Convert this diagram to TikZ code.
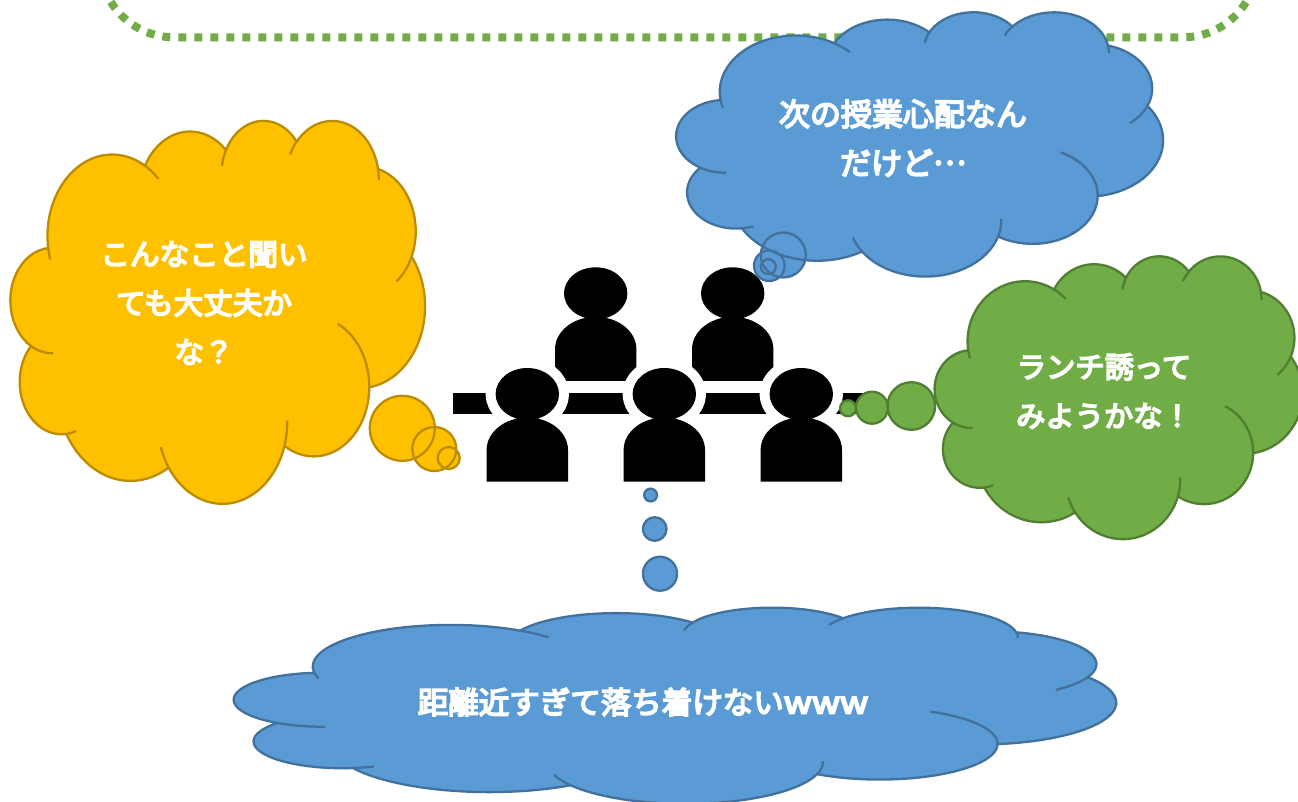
\documentclass[tikz,border=0pt]{standalone}
\usepackage{fontspec}
\usepackage{graphicx}
\newfontfamily\cjk[FakeBold=5.5]{Noto Sans CJK JP}
\definecolor{bluefill}{HTML}{5B9BD5}
\definecolor{bluestroke}{HTML}{41719C}
\definecolor{yellowfill}{HTML}{FFC000}
\definecolor{yellowstroke}{HTML}{BC8C00}
\definecolor{greenfill}{HTML}{70AD47}
\definecolor{greenstroke}{HTML}{507E32}
% arc table: visual angles of the cloud outline turned into parametric ones
\newcommand\defarc[5]{%
  \pgfmathsetmacro\tmpS{atan2(#2*sin(#4),#3*cos(#4))}%
  \pgfmathsetmacro\tmpE{atan2(#2*sin(#4+#5),#3*cos(#4+#5))}%
  \pgfmathsetmacro\tmpD{mod(\tmpE-\tmpS+720,360)}%
  \expandafter\xdef\csname aS#1\endcsname{\tmpS}%
  \expandafter\xdef\csname aD#1\endcsname{\tmpD}%
  \expandafter\xdef\csname aX#1\endcsname{#2}%
  \expandafter\xdef\csname aY#1\endcsname{#3}}
\defarc{A}{67.53}{91.90}{-190.4875}{123.7805}
\defarc{B}{53.33}{72.67}{-144.1024}{89.9452}
\defarc{C}{43.65}{59.45}{-145.8079}{99.7230}
\defarc{D}{48.57}{65.95}{-130.9861}{117.2417}
\defarc{E}{53.33}{72.73}{-78.7089}{109.0269}
\defarc{F}{67.75}{92.20}{-46.2673}{130.2690}
\defarc{G}{57.85}{78.67}{0.6250}{114.0333}
\defarc{H}{67.52}{92.15}{22.4516}{115.1726}
\defarc{I}{77.20}{105.43}{66.2426}{75.7110}
\defarc{J}{43.60}{59.18}{-274.9421}{146.7356}
\defarc{K}{43.45}{59.45}{-246.8285}{152.5189}
\def\ca#1{arc[start angle=\csname aS#1\endcsname,delta angle=\csname aD#1\endcsname,x radius=\csname aX#1\endcsname,y radius=\csname aY#1\endcsname]}
% extension of an arc at its start (backward) or at its end (forward)
\newcommand\back[2]{(j#1) arc[start angle=\csname aS#1\endcsname,delta angle=-#2,x radius=\csname aX#1\endcsname,y radius=\csname aY#1\endcsname]}
\newcommand\fwd[3]{(j#2) arc[start angle={\csname aS#1\endcsname+\csname aD#1\endcsname},delta angle=#3,x radius=\csname aX#1\endcsname,y radius=\csname aY#1\endcsname]}
\def\cloudoutline{(39.00,143.70) coordinate (jA) \ca{A} coordinate (jB) \ca{B} coordinate (jC) \ca{C} coordinate (jD) \ca{D} coordinate (jE) \ca{E} coordinate (jF) \ca{F} coordinate (jG) \ca{G} coordinate (jH) \ca{H} coordinate (jI) \ca{I} coordinate (jJ) \ca{J} coordinate (jK) \ca{K} -- cycle}
% x0 y0 sx sy fill stroke tail
\newcommand\thoughtcloud[7]{%
  \fill[#5] #7;
  \begin{scope}[shift={(#1,#2)},xscale=#3,yscale=#4]
    \fill[#5] \cloudoutline;
    \draw[#6,cloudline] \cloudoutline;
    \draw[#6,cloudline,line cap=butt] \fwd{A}{B}{15} \back{C}{18} \back{D}{15} \fwd{D}{E}{11} \fwd{E}{F}{28}
      \back{G}{65} \back{H}{18} \fwd{H}{I}{16} \back{J}{14} \back{K}{32} \back{A}{9};
  \end{scope}
  \draw[#6,cloudline] #7;}
\newcommand\person[3]{%
  \begin{scope}[shift={(#1,#2)}]
    \path[#3] (0,0) ellipse [x radius=31.7,y radius=26]
      (-40.7,87.6) -- (-40.7,56) arc[start angle=180,delta angle=180,x radius=40.7,y radius=32.5] -- (40.7,87.6) -- cycle;
  \end{scope}}
\tikzset{
  cloudline/.style={line width=2.3pt,line join=round},
  saying/.style={text=white,font=\cjk\fontsize{#1}{49}\selectfont,align=center,inner sep=0pt},
  halo/.style={draw=white,fill=white,line width=20pt,line join=round},
  figure/.style={fill=black},
  rimline/.style={draw=greenfill,line width=8pt,dash pattern=on 8pt off 8pt,dash phase=7.46pt}
}
\begin{document}
\begin{tikzpicture}[x=1pt,y=-1pt]
\path[use as bounding box,clip] (0,0) rectangle (1298,801);
\fill[white] (0,0) rectangle (1298,801);
% dotted frame
\draw[rimline] (100,-36.7) arc[start angle=180,delta angle=-90,radius=74] -- (1183,37.3) arc[start angle=90,delta angle=-90,radius=74];
% people
\person{595.7}{293.3}{figure}
\person{732.7}{293.3}{figure}
\fill[figure] (452.7,393.3) rectangle (876,414);
\person{527.3}{394}{halo}
\person{664.3}{394}{halo}
\person{801.3}{394}{halo}
\person{527.3}{394}{figure}
\person{664.3}{394}{figure}
\person{801.3}{394}{figure}
% clouds
\thoughtcloud{10.7}{119.6}{0.9587}{0.8862}{yellowfill}{yellowstroke}{(402.3,428.3) circle[radius=32.5] (434.3,449) circle[radius=22] (448.7,458) circle[radius=11]}
\thoughtcloud{676.5}{11.4}{1.126}{0.6116}{bluefill}{bluestroke}{(783.3,255) circle[radius=22.5] (769.3,265.7) circle[radius=15.3] (768.3,266.7) circle[radius=7.5]}
\thoughtcloud{934.9}{255.4}{0.851}{0.6545}{greenfill}{greenstroke}{(911.3,406) circle[radius=23.8] (872,407.7) circle[radius=16] (848,408.3) circle[radius=8]}
\thoughtcloud{234.4}{607}{2.0405}{0.454}{bluefill}{bluestroke}{(650.6,495) circle[radius=6.4] (654.7,529) circle[radius=11.8] (660,573.7) circle[radius=17]}
% texts
\node[saying=29.6] (yellowtext) at (204,303) {こんなこと聞い\\ても大丈夫か\\な？};
\node[saying=31] (topbluetext) at (903,138) {次の授業心配なん\\だけど\raisebox{0.32em}{…}};
\node[saying=29.3] (greentext) at (1104,391) {ランチ誘って\\みようかな！};
\node[saying=30.5] (bottomtext) at (643,702) {距離近すぎて落ち着けない\scalebox{1.15}[1]{www}};
\end{tikzpicture}
\end{document}
